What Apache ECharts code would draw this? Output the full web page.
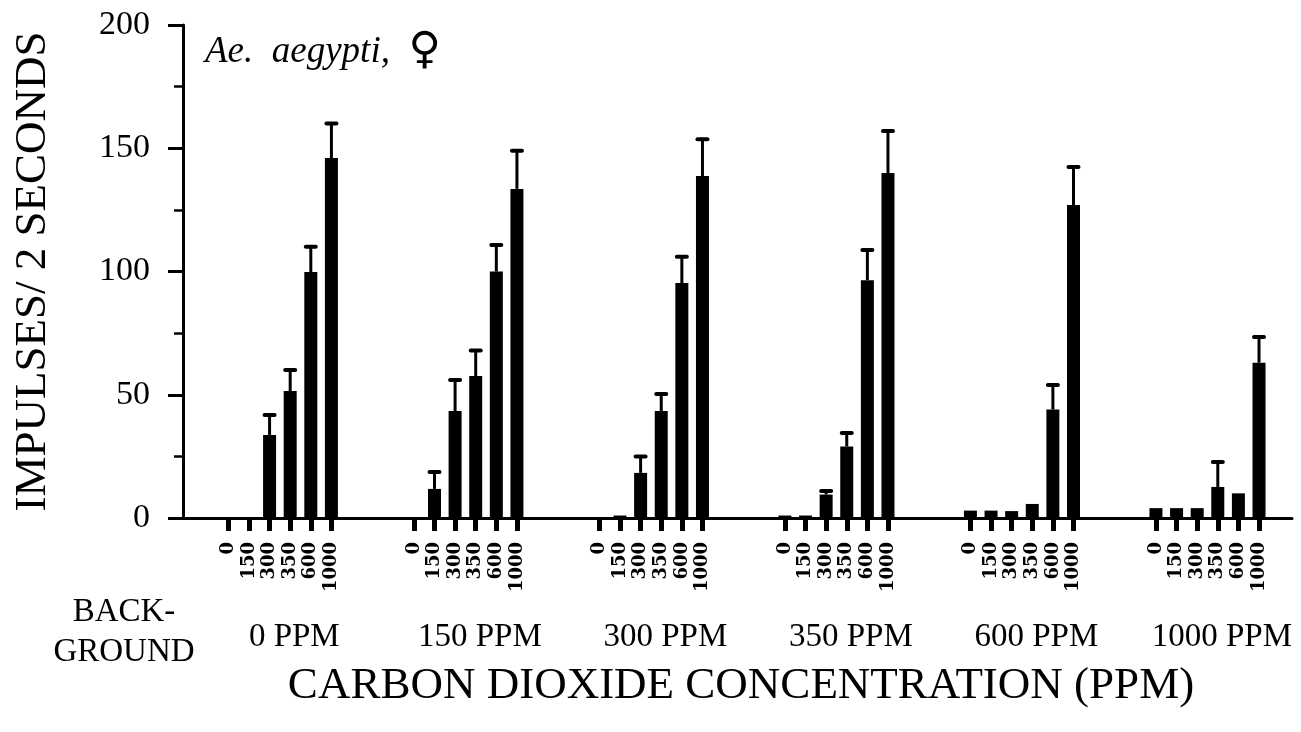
<!DOCTYPE html>
<html>
<head>
<meta charset="utf-8">
<script src="https://cdn.jsdelivr.net/npm/echarts@6/dist/echarts.min.js"></script>
<style>html,body{margin:0;padding:0;background:#fff}#c{width:1301px;height:732px}</style>
</head>
<body>
<div id="c"></div>
<script>
// ---- data ----
const categories = ['0', '150', '300', '350', '600', '1000'];           // test CO2 concentration
const backgrounds = ['0 PPM', '150 PPM', '300 PPM', '350 PPM', '600 PPM', '1000 PPM'];
const yTicks = [0, 50, 100, 150, 200];

const bg0    = [0, 0, 33.7, 51.5, 99.8, 146];
const bg150  = [0, 11.8, 43.4, 57.6, 100, 133.5];
const bg300  = [0, 1, 18.3, 43.4, 95.3, 138.7];
const bg350  = [1, 1, 9.5, 29, 96.5, 140];
const bg600  = [3, 3, 2.8, 5.7, 44, 127];
const bg1000 = [4, 4, 4, 12.6, 10, 63];

// upper end of error bars (null = none drawn)
const err0    = [null, null, 41.8, 60, 110, 160];
const err150  = [null, 18.7, 56, 68, 110.7, 149];
const err300  = [null, null, 25, 50.3, 106, 153.7];
const err350  = [null, null, 11, 34.5, 108.7, 157];
const err600  = [null, null, null, null, 54, 142.4];
const err1000 = [null, null, null, 22.7, null, 73.4];

const values = [bg0, bg150, bg300, bg350, bg600, bg1000];
const errors = [err0, err150, err300, err350, err600, err1000];

// ---- layout (slot index on a numeric x scale) ----
const STRIDE = 9;
const LABEL_SHIFT = 0.7;
const slot = (g, i) => g * STRIDE + i;
const barData = [], errData = [], tickPos = [], groupPos = [];
values.forEach((arr, g) => {
  arr.forEach((v, i) => {
    barData.push([slot(g, i), v]);
    tickPos.push(slot(g, i));
    const e = errors[g][i];
    if (e != null) errData.push([slot(g, i), v, e]);
  });
  groupPos.push(slot(g, (categories.length - 1) / 2) + LABEL_SHIFT);
});

const serif = '"Liberation Serif", "DejaVu Serif", serif';
const chart = echarts.init(document.getElementById('c'));
chart.setOption({
  animation: false,
  backgroundColor: '#fff',
  grid: { left: 183, right: 9, top: 25, bottom: 214, containLabel: false, outerBoundsMode: 'none' },
  xAxis: [{
    type: 'value', min: -2.2, max: 51.6,
    splitLine: { show: false },
    axisLine: { show: true, onZero: true, lineStyle: { color: '#000', width: 3 } },
    axisTick: { show: true, customValues: tickPos, length: 13, lineStyle: { color: '#000', width: 5 } },
    axisLabel: {
      customValues: tickPos, rotate: 90, margin: 24,
      color: '#000', fontFamily: '"DejaVu Serif", serif', fontWeight: 'bold', fontSize: 18,
      formatter: v => categories[Math.round(v) % STRIDE] || ''
    }
  }, {
    type: 'value', min: -2.2, max: 51.6, position: 'bottom',
    splitLine: { show: false }, axisLine: { show: false }, axisTick: { show: false },
    axisLabel: {
      customValues: groupPos, margin: 103, color: '#000', fontFamily: serif, fontSize: 33,
      formatter: v => backgrounds[Math.round((v - LABEL_SHIFT - 2.5) / STRIDE)] || ''
    }
  }],
  yAxis: {
    type: 'value', min: 0, max: 200, interval: 50,
    name: 'IMPULSES/ 2 SECONDS', nameLocation: 'middle', nameRotate: 90, nameGap: 127,
    nameTextStyle: { color: '#000', fontFamily: serif, fontSize: 45 },
    splitLine: { show: false },
    axisLine: { show: true, onZero: false, lineStyle: { color: '#000', width: 3 } },
    axisTick: { show: true, length: 15, lineStyle: { color: '#000', width: 3 } },
    minorTick: { show: true, splitNumber: 2, length: 9, lineStyle: { color: '#000', width: 2.5 } },
    minorSplitLine: { show: false },
    axisLabel: { margin: 33, color: '#000', fontFamily: serif, fontSize: 34,
      customValues: yTicks }
  },
  graphic: [
    { type: 'text', x: 205, y: 30,
      style: { text: 'Ae.  aegypti,  {s|\u2640}', fill: '#000', font: 'italic 37px ' + serif,
        rich: { s: { fontSize: 44, fontFamily: '"DejaVu Sans", sans-serif', fontStyle: 'normal', fontWeight: 'bold', fill: '#000' } } } },
    { type: 'text', x: 124, y: 596,
      style: { text: 'BACK-', fill: '#000', font: '33px ' + serif, align: 'center' } },
    { type: 'text', x: 124, y: 636,
      style: { text: 'GROUND', fill: '#000', font: '33px ' + serif, align: 'center' } },
    { type: 'text', x: 741, y: 664,
      style: { text: 'CARBON DIOXIDE CONCENTRATION (PPM)', fill: '#000', font: '45px ' + serif, align: 'center' } }
  ],
  series: [{
    type: 'bar', xAxisIndex: 0, data: barData, barWidth: 13,
    itemStyle: { color: '#000' }, silent: true
  }, {
    type: 'custom', xAxisIndex: 0, data: errData, silent: true,
    encode: { x: 0, y: [1, 2] },
    renderItem: (params, api) => {
      const x = api.value(0);
      const p0 = api.coord([x, api.value(1)]);
      const p1 = api.coord([x, api.value(2)]);
      return { type: 'group', children: [
        { type: 'line', shape: { x1: p0[0], y1: p0[1], x2: p1[0], y2: p1[1] },
          style: { stroke: '#000', lineWidth: 3 } },
        { type: 'line', shape: { x1: p1[0] - 5, y1: p1[1], x2: p1[0] + 5, y2: p1[1] },
          style: { stroke: '#000', lineWidth: 4, lineCap: 'round' } }
      ] };
    }
  }]
});
</script>
</body>
</html>
